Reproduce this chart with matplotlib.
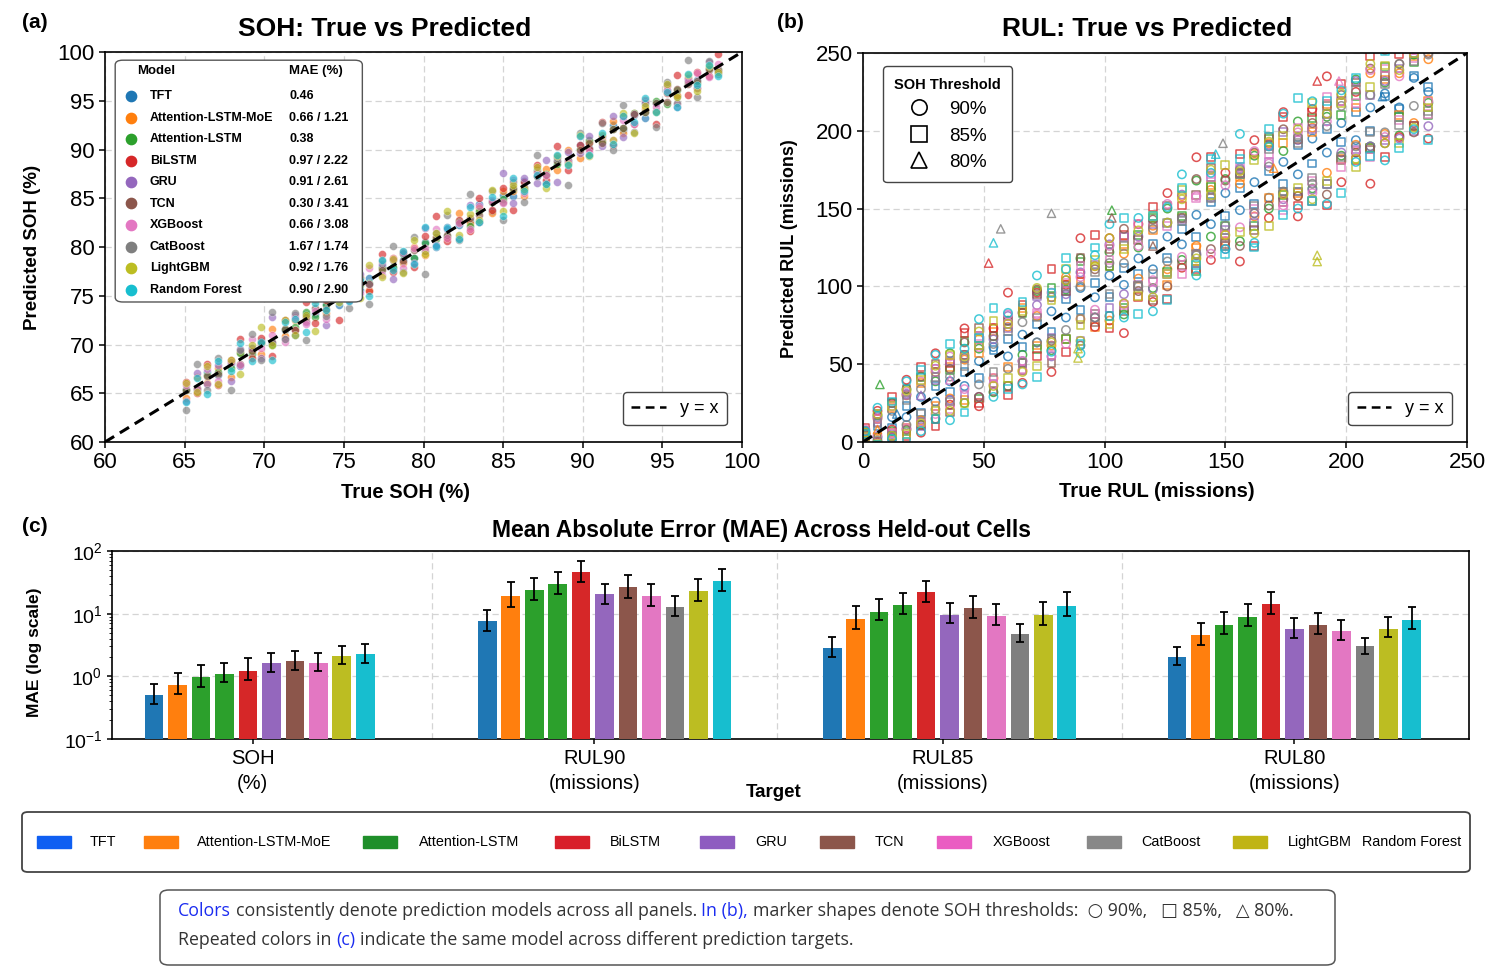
import numpy as np
import matplotlib
matplotlib.use('Agg')
import matplotlib.pyplot as plt
from matplotlib import font_manager
from matplotlib.lines import Line2D
from matplotlib.patches import FancyBboxPatch, Rectangle

# fonts
names = {f.name for f in font_manager.fontManager.ttflist}
NARROW = 'Liberation Sans Narrow' if 'Liberation Sans Narrow' in names else 'Liberation Sans'
plt.rcParams['font.family'] = ['Liberation Sans', 'DejaVu Sans']
plt.rcParams['mathtext.default'] = 'regular'

W, H = 1497, 980

# ---------------- data ----------------
models = ['TFT', 'Attention-LSTM-MoE', 'Attention-LSTM', 'BiLSTM', 'GRU',
          'TCN', 'XGBoost', 'CatBoost', 'LightGBM', 'Random Forest']
colors = ['#1f77b4', '#ff7f0e', '#2ca02c', '#d62728', '#9467bd',
          '#8c564b', '#e377c2', '#7f7f7f', '#bcbd22', '#17becf']
mae_text = ['0.46', '0.66 / 1.21', '0.38', '0.97 / 2.22', '0.91 / 2.61',
            '0.30 / 3.41', '0.66 / 3.08', '1.67 / 1.74', '0.92 / 1.76', '0.90 / 2.90']

# (a) true SOH of the held-out samples and residual (pred - true) per model
true_soh = [65.1, 65.8, 66.4, 67.1, 67.9, 68.5, 69.2, 69.8, 70.5, 71.3,
            71.9, 72.6, 73.2, 73.9, 74.7, 75.3, 76.0, 76.6, 77.4, 78.1,
            78.7, 79.4, 80.1, 80.8, 81.5, 82.2, 82.9, 83.5, 84.3, 85.0,
            85.6, 86.3, 87.1, 87.7, 88.4, 89.1, 89.8, 90.4, 91.2, 91.9,
            92.5, 93.2, 93.9, 94.6, 95.3, 95.9, 96.6, 97.2, 97.9, 98.5]
soh_res = [
    [0.3, -0.5, 0.8, -0.2, 0.1, -0.7, 0.4, 0.6, -0.3, 0.2,
     -0.9, 0.5, -0.1, 0.3, -0.6, 1.2, -0.4, 0.2, 0.7, -0.3,
     0.0, -0.5, 0.4, -0.8, 0.6, 0.1, -0.2, 0.9, -0.6, 0.3,
     -0.4, 0.5, 0.2, -1.1, 0.4, -0.3, 0.7, -0.2, 0.1, 0.6,
     -0.5, 0.3, -0.7, 0.2, 0.8, -0.4, 0.5, -0.1, 0.3, -0.6],
    [-0.6, 0.9, -0.3, 0.5, -1.2, 0.7, 0.2, -0.8, 1.1, -0.4,
     0.6, -0.2, 1.4, -0.7, 0.3, -0.5, 0.9, -1.0, 0.4, 0.8,
     -0.3, 0.6, -0.9, 0.2, -0.6, 1.3, -0.4, 0.5, -0.8, 0.7,
     0.1, -1.1, 0.6, 0.3, -0.5, 0.9, -0.7, 0.4, -0.2, 1.0,
     -0.8, 0.5, 0.3, -0.6, 1.2, -0.3, 0.7, -0.9, 0.4, -0.5],
    [0.2, -0.4, 0.5, 0.1, -0.3, 0.6, -0.2, 0.4, -0.5, 0.3,
     -0.1, 0.7, -0.4, 0.2, 0.5, -0.6, 0.1, -0.3, 0.4, -0.2,
     0.6, -0.5, 0.3, 0.0, -0.4, 0.5, -0.7, 0.2, 0.3, -0.1,
     0.4, -0.3, 0.8, -0.2, 0.1, -0.5, 0.3, 0.6, -0.4, 0.2,
     -0.3, 0.5, -0.1, 0.4, -0.6, 0.2, 0.3, -0.4, 0.5, -0.2],
    [1.1, -0.8, 1.6, -1.3, 0.5, 2.1, -0.6, 0.9, -1.7, 1.2,
     -0.4, 1.8, -1.0, 0.7, -2.2, 1.4, 0.3, -1.1, 1.9, -0.7,
     0.8, -1.5, 1.0, 2.4, -0.9, 0.6, -1.3, 1.5, -0.5, 1.1,
     -1.8, 0.4, 1.3, -0.8, 2.0, -1.2, 0.7, -0.3, 1.6, -1.4,
     0.9, -0.6, 1.2, -2.0, 0.5, 1.7, -1.0, 0.8, -0.4, 1.3],
    [-0.9, 1.3, -0.5, 0.8, -1.6, 1.0, 0.4, -1.2, 2.3, -0.7,
     1.1, -0.3, 1.5, -1.9, 0.6, -0.8, 1.2, -0.4, 0.9, -1.4,
     0.7, -1.0, 1.8, -0.6, 0.3, -1.3, 1.4, -0.9, 0.5, 2.6,
     -1.1, 0.8, -0.5, 1.2, -1.7, 0.6, -0.2, 1.0, -0.8, 1.5,
     -1.2, 0.4, 0.9, -0.6, 1.3, -1.5, 0.7, -0.9, 1.1, -0.4],
    [0.2, -0.3, 0.4, -0.1, 0.3, -0.5, 0.1, 0.4, -0.2, 0.3,
     -0.4, 0.2, 0.5, -0.3, 0.1, -0.2, 0.4, -0.4, 0.2, 0.6,
     -0.1, 0.3, -0.5, 0.2, -0.3, 0.4, 0.1, -0.2, 0.3, -0.4,
     0.5, -0.1, 0.2, -0.3, 0.4, -0.2, 0.1, 0.3, -0.5, 0.2,
     -0.3, 0.4, -0.1, 0.2, -0.4, 0.3, 0.1, -0.2, 0.4, -0.3],
    [0.7, -0.4, 1.1, -0.8, 0.3, -0.6, 1.4, -0.2, 0.5, -1.0,
     0.9, -0.5, 0.2, -1.3, 0.6, 0.4, -0.7, 1.2, -0.3, 0.8,
     -0.9, 0.5, -0.2, 1.0, -0.6, 0.3, -1.1, 0.7, 0.4, -0.5,
     1.3, -0.8, 0.6, -0.3, 0.9, -0.4, 1.6, -0.7, 0.2, -0.9,
     0.5, -0.6, 1.1, -0.2, 0.8, -1.2, 0.4, 0.6, -0.5, 0.3],
    [-1.8, 2.2, -1.1, 1.5, -2.6, 0.9, 1.9, -1.4, 2.8, -0.7,
     1.3, -2.1, 1.7, -1.0, 3.2, -1.6, 0.8, -2.4, 1.2, 2.0,
     -1.3, 1.6, -2.9, 0.6, 1.8, -1.5, 2.5, -0.9, 1.4, -2.2,
     1.1, -1.7, 2.3, -1.2, 0.7, -2.7, 1.9, -1.0, 1.5, -1.9,
     2.1, -1.4, 0.9, -2.3, 1.6, -1.1, 2.6, -1.8, 1.2, -0.8],
    [1.0, -0.7, 1.4, -1.1, 0.5, -1.5, 0.8, 2.0, -0.6, 1.2,
     -0.9, 0.4, -1.8, 1.1, -0.3, 0.9, -1.2, 1.6, -0.5, 0.7,
     -1.4, 1.3, -0.8, 0.6, 2.2, -1.0, 0.5, -0.7, 1.5, -1.3,
     0.8, -0.4, 1.1, -1.6, 0.9, -0.6, 1.7, -1.1, 0.3, -0.9,
     1.2, -1.5, 0.6, -0.8, 1.4, -0.5, 1.0, -1.2, 0.7, -0.6],
    [-1.0, 0.8, -1.5, 1.2, -0.6, 1.7, -0.9, 0.5, -2.1, 1.0,
     0.7, -1.3, 1.1, -0.4, 1.9, -0.8, 0.6, -1.6, 1.3, -0.5,
     0.9, -1.1, 2.0, -0.7, 0.4, -1.4, 1.2, -0.9, 0.8, -1.8,
     1.5, -0.6, 0.3, -1.2, 1.0, -0.7, 1.6, -1.0, 0.5, -1.3,
     0.9, -0.4, 1.4, -0.8, 0.6, -1.5, 1.1, -0.6, 0.8, -1.0],
]

# (b) true RUL of the held-out samples, residuals for SOH90 (circles) and SOH85 (squares)
true_rul = [1, 6, 12, 18, 24, 30, 36, 42, 48, 54,
            60, 66, 72, 78, 84, 90, 96, 102, 108, 114,
            120, 126, 132, 138, 144, 150, 156, 162, 168, 174,
            180, 186, 192, 198, 204, 210, 216, 222, 228, 234]
rul90_res = [
    [2, -3, 4, -2, 5, -4, 3, -6, 4, 7, -5, 3, -8, 6, -4, 9, -3, 5, -7, 4,
     -9, 6, -5, 8, -4, 10, -7, 5, -11, 6, -8, 9, -6, 7, -10, 5, 8, -7, 6, -9],
    [4, 9, -6, 12, -10, 15, -8, 11, 18, -13, 14, -20, 9, -16, 22, -11, 17, -24, 13, -9,
     19, -15, 26, -12, 18, -21, 10, -17, 24, -14, -22, 16, -19, 21, -13, 27, -18, 15, -23, 12],
    [3, 11, -5, 16, -13, 9, 21, -17, 12, -22, 18, -10, 25, -19, 14, 28, -16, 20, -26, 11,
     -21, 24, -15, 30, -12, 19, -27, 22, -18, 13, 26, -23, 17, -14, 29, -20, 15, -25, 21, -16],
    [5, 14, -4, 22, -18, 27, -12, 31, -25, 19, 36, -28, 24, -33, 17, 41, -22, 29, -38, 26,
     -30, 34, -20, 45, -27, 23, -40, 32, -24, 38, -35, 28, 43, -31, 21, -44, 36, -26, 30, -39],
    [2, 10, -7, 13, -11, 17, -9, 14, -19, 12, 21, -14, 16, -23, 11, 19, -16, 25, -13, 18,
     -22, 15, 27, -17, 13, -26, 20, -15, 23, -18, 14, -24, 19, -12, 28, -20, 16, -27, 22, -31],
    [4, -6, 13, -10, 18, -15, 11, 22, -19, 14, -24, 17, 26, -13, 20, -28, 15, -21, 29, -17,
     23, -26, 12, 31, -20, 18, -30, 24, -16, 27, -22, 19, -33, 25, -18, 30, -24, 21, -29, 16],
    [7, -2, 11, -9, 15, -12, 19, -8, 13, -17, 22, -14, 10, 18, -21, 16, -11, 24, -19, 12,
     -16, 27, -13, 20, -23, 15, -18, 25, 11, -22, 19, -26, 14, 21, -17, 29, -20, 13, 24, -15],
    [3, -5, 8, -7, 10, -9, 6, 12, -11, 9, -13, 11, -8, 15, -12, 10, -16, 13, 7, -14,
     17, -10, 12, -18, 14, -11, 19, -15, 9, -13, 16, -20, 11, 18, -14, 13, -17, 21, -12, 15],
    [5, 12, -8, 15, -12, 19, -16, 13, 23, -18, 16, -21, 27, -14, 20, -25, 17, 29, -19, 22,
     -27, 15, 24, -20, 31, -17, 18, -28, 25, -15, 21, -30, 19, 26, -22, 33, -24, 17, -26, 28],
    [6, 16, -10, 21, -17, 26, -22, 18, 31, -25, 23, -29, 35, -20, 27, -33, 24, 38, -28, 30,
     -36, 25, 40, -31, 29, -26, 42, -34, 22, 37, -30, 33, -39, 28, -24, 44, -35, 31, -27, 36],
]
rul85_res = [
    [-1, 4, -3, 5, -5, 6, -4, 3, -7, 5, 6, -5, 4, -7, 8, -5, 6, -9, 4, -6,
     7, -8, 5, -6, 10, -5, 7, -9, 6, -8, 11, -7, 9, -5, 8, -10, 6, -8, 7, -6],
    [6, -4, 10, -9, 14, -7, 12, -15, 9, 17, -12, 20, -10, 15, -18, 13, -22, 11, 19, -14,
     16, -25, 12, -13, 21, -17, 14, 23, -11, 18, -20, 13, 25, -16, 11, -21, 17, -12, 20, -15],
    [5, -3, 13, -11, 18, -15, 10, 23, -20, 14, -24, 17, -12, 21, -18, 26, -14, 11, -22, 19,
     24, -17, 13, -28, 20, -11, 16, -23, 27, -15, -19, 22, -26, 12, 18, -21, 25, -13, 16, -24],
    [8, -6, 17, -14, 24, -20, 15, 28, -23, 19, -30, 22, -17, 33, -26, 18, 37, -29, 25, -21,
     31, -34, 20, -27, 39, -24, 29, -36, 22, 35, -28, 26, -40, 32, -23, 38, -33, 27, -25, 30],
    [-3, 7, -9, 12, -14, 10, 16, -12, 19, -17, 13, -20, 22, -11, 15, -25, 18, -16, 24, -13,
     20, -18, 11, -23, 26, -14, 17, -21, 12, 25, -19, 15, -26, 21, -16, 13, -22, 18, -28, 23],
    [6, 12, -8, 16, -13, 20, -17, 14, 25, -21, 18, -15, 23, -27, 13, 28, -19, 22, -24, 16,
     -29, 26, -18, 21, 32, -23, 17, -26, 28, -20, 15, -31, 24, -17, 27, -22, 19, 33, -25, 21],
    [-2, 9, -6, 14, -11, 17, -15, 12, 20, -13, 16, -19, 11, -22, 18, 23, -14, 15, -20, 26,
     -17, 13, -24, 19, 28, -16, 21, -12, 17, -25, 22, -18, 30, -21, 14, -27, 24, -15, 19, -23],
    [-4, 6, -8, 9, -6, 12, -10, 7, 14, -9, 11, -15, 8, -12, 16, -11, 13, -7, 18, -14,
     -12, 15, 10, -17, 13, -19, 16, -10, 20, -13, 12, -16, 19, -15, 22, -11, 14, -18, 17, -21],
    [2, -7, 11, -13, 16, -10, 20, -17, 14, 24, -19, 18, -23, 13, 27, -15, 21, -26, 16, -20,
     25, -18, 30, -22, 15, 28, -21, 19, -29, 23, -17, 32, -24, 20, -27, 18, 26, -30, 22, -19],
    [4, -8, 14, -18, 22, -15, 27, -23, 19, 32, -26, 24, -30, 18, 34, -27, 29, -21, 36, -32,
     25, -35, 31, -24, 38, -29, 26, -37, 33, -28, 41, -31, 27, -38, 30, -26, 35, -33, 28, -40],
]
# SOH80 (triangles): few samples, given as model index / true / predicted
tri_model = [2, 1, 7, 9, 7, 2, 5, 7, 9, 8, 8, 3, 6, 3, 8, 8, 0, 4, 6, 5, 1, 0]
tri_true = [7, 6, 78, 54, 57, 103, 103, 149, 146, 188, 188, 188, 197, 52, 89, 89, 14, 24, 36, 120, 170, 215]
tri_pred = [37, 8, 147, 128, 137, 149, 144, 192, 185, 120, 116, 232, 232, 115, 60, 54, 18, 30, 40, 126, 176, 222]

# (c) MAE per target, 11 bars per group (nan = no bar)
targets = ['SOH\n(%)', 'RUL90\n(missions)', 'RUL85\n(missions)', 'RUL80\n(missions)']
bar_colors = ['#1f77b4', '#ff7f0e', '#2ca02c', '#2ca02c', '#d62728', '#9467bd',
              '#8c564b', '#e377c2', '#7f7f7f', '#bcbd22', '#17becf']
nan = np.nan
mae_vals = [
    [0.50, 0.74, 0.96, 1.10, 1.23, 1.64, 1.74, 1.66, nan, 2.11, 2.27],
    [7.5, 19.3, 23.7, 29.8, 45.6, 20.3, 26.2, 19.0, 12.6, 22.8, 32.7],
    [2.8, 8.2, 10.8, 14.0, 21.9, 9.6, 12.4, 9.2, 4.8, 9.5, 13.3],
    [2.0, 4.5, 6.6, 9.0, 14.1, 5.6, 6.6, 5.2, 3.0, 5.7, 7.9],
]
mae_hi = [
    [0.76, 1.14, 1.49, 1.64, 1.96, 2.32, 2.50, 2.40, nan, 3.10, 3.30],
    [11.4, 32.2, 36.6, 46.0, 68.0, 30.0, 41.7, 30.0, 19.0, 35.7, 52.0],
    [4.25, 13.1, 16.9, 21.6, 33.5, 14.7, 19.3, 14.3, 6.9, 15.3, 21.9],
    [2.96, 7.1, 10.5, 14.2, 22.2, 8.45, 10.3, 7.95, 4.15, 8.9, 12.8],
]
mae_lo = [
    [0.36, 0.52, 0.68, 0.80, 0.88, 1.18, 1.25, 1.20, nan, 1.55, 1.65],
    [5.2, 12.9, 16.3, 20.5, 31.8, 14.3, 18.1, 13.4, 9.1, 15.9, 23.1],
    [2.04, 5.7, 7.8, 9.9, 15.1, 7.05, 8.65, 6.5, 3.55, 6.7, 9.2],
    [1.49, 3.18, 4.68, 6.25, 9.8, 4.05, 4.68, 3.86, 2.24, 4.2, 5.6],
]

# legend below panel (c)
legend_labels = ['TFT', 'Attention-LSTM-MoE', 'Attention-LSTM', 'BiLSTM', 'GRU',
                 'TCN', 'XGBoost', 'CatBoost', 'LightGBM', 'Random Forest']
legend_colors = ['#0f5ff2', '#ff7f0e', '#1f8f2a', '#d81f2a', '#8e5cc0',
                 '#8c564b', '#ea5cc2', '#888888', '#c0b414', None]
legend_patch_x = [37, 144, 363, 555, 700, 820, 937, 1087, 1233, None]
legend_text_x = [90, 197, 419, 610, 755, 875, 993, 1141, 1288, 1362]


def fx(px):
    return px / W


def fy(py):
    return 1 - py / H


fig = plt.figure(figsize=(W / 100, H / 100), dpi=100)

grid_kw = dict(color='#d4d4d4', linestyle=(0, (5, 3)), linewidth=0.9)
diag_kw = dict(color='black', linestyle=(0, (3.5, 2.2)), linewidth=2.2, zorder=4)

# ---------------- (a) ----------------
ax_a = fig.add_axes([fx(105), fy(442), 637 / W, 390 / H])
ts = np.array(true_soh)
for i, m in enumerate(models):
    ax_a.scatter(ts, ts + np.array(soh_res[i]), s=32, color=colors[i], alpha=0.65,
                 edgecolors='white', linewidths=0.3, zorder=2)
ax_a.plot([60, 100], [60, 100], **diag_kw)
ax_a.set_xlim(60, 100)
ax_a.set_ylim(60, 100)
ax_a.set_xticks(range(60, 101, 5))
ax_a.set_yticks(range(60, 101, 5))
ax_a.grid(True, **grid_kw)
ax_a.set_axisbelow(True)
ax_a.tick_params(labelsize=16, width=1.1, length=4)
for lab in ax_a.get_xticklabels() + ax_a.get_yticklabels():
    lab.set_fontfamily(NARROW)
for sp in ax_a.spines.values():
    sp.set_linewidth(1.2)

# model legend box
ax_a.add_patch(FancyBboxPatch((0.016, 0.359), 0.388, 0.62,
                              boxstyle='round,pad=0,rounding_size=0.012',
                              transform=ax_a.transAxes, fc='white', ec='#555555',
                              lw=1.0, zorder=5))
ax_a.text(0.050, 0.951, 'Model', transform=ax_a.transAxes, fontsize=9.5,
          fontweight='bold', va='center', zorder=6)
ax_a.text(0.289, 0.951, 'MAE (%)', transform=ax_a.transAxes, fontsize=9.5,
          fontweight='bold', va='center', zorder=6)
for i, m in enumerate(models):
    yy = 1 - (96 - 52 + 21.5 * i) / 390
    ax_a.scatter([0.041], [yy], s=55, color=colors[i], transform=ax_a.transAxes,
                 zorder=6, clip_on=False)
    ax_a.text(0.0706, yy, m, transform=ax_a.transAxes, fontsize=9,
              fontweight='bold', va='center', zorder=6)
    ax_a.text(0.289, yy, mae_text[i], transform=ax_a.transAxes, fontsize=9,
              fontweight='bold', va='center', zorder=6)

leg_line = Line2D([], [], color='black', linestyle=(0, (3.5, 2.2)), linewidth=1.8)
ax_a.legend([leg_line], ['y = x'], loc='lower right', fontsize=13, handlelength=1.9,
            borderpad=0.45, fancybox=True, edgecolor='#444444', framealpha=1,
            bbox_to_anchor=(0.99, 0.02))

# ---------------- (b) ----------------
ax_b = fig.add_axes([fx(863), fy(442), 604 / W, 389 / H])
tr = np.array(true_rul)
for i, m in enumerate(models):
    ax_b.scatter(tr, tr + np.array(rul85_res[i]), marker='s', s=32, facecolors='none',
                 edgecolors=colors[i], linewidths=1.1, alpha=0.8, zorder=2)
    ax_b.scatter(tr, tr + np.array(rul90_res[i]), marker='o', s=36, facecolors='none',
                 edgecolors=colors[i], linewidths=1.1, alpha=0.8, zorder=2)
for k in range(len(tri_model)):
    ax_b.scatter([tri_true[k]], [tri_pred[k]], marker='^', s=36, facecolors='none',
                 edgecolors=colors[tri_model[k]], linewidths=1.0, alpha=0.8, zorder=2)
ax_b.plot([0, 250], [0, 250], **diag_kw)
ax_b.set_xlim(0, 250)
ax_b.set_ylim(0, 250)
ax_b.set_xticks(range(0, 251, 50))
ax_b.set_yticks(range(0, 251, 50))
ax_b.grid(True, **grid_kw)
ax_b.set_axisbelow(True)
ax_b.tick_params(labelsize=16, width=1.1, length=4)
for sp in ax_b.spines.values():
    sp.set_linewidth(1.2)

thr_handles = [Line2D([], [], marker=mk, linestyle='none', markersize=11,
                      markerfacecolor='none', markeredgecolor='black', markeredgewidth=1.2)
               for mk in ['o', 's', '^']]
leg_thr = ax_b.legend(thr_handles, ['90%', '85%', '80%'], loc='upper left',
                      title='SOH Threshold', fontsize=13.5, handlelength=1.0,
                      handletextpad=1.1,
                      title_fontproperties={'weight': 'bold', 'size': 10.5},
                      fancybox=True, edgecolor='#444444', framealpha=1,
                      bbox_to_anchor=(0.018, 0.99), borderpad=0.6, labelspacing=0.5)
ax_b.add_artist(leg_thr)
ax_b.legend([leg_line], ['y = x'], loc='lower right', fontsize=13, handlelength=1.9,
            borderpad=0.45, fancybox=True, edgecolor='#444444', framealpha=1,
            bbox_to_anchor=(0.99, 0.02))

# ---------------- (c) ----------------
ax_c = fig.add_axes([fx(112), fy(739), 1357 / W, 188 / H])
pitch, bw = 0.068, 0.054
for g in range(len(targets)):
    idx = [j for j in range(len(bar_colors)) if not np.isnan(mae_vals[g][j])]
    n = len(idx)
    xs = g + (np.arange(n) - (n - 1) / 2) * pitch
    vals = np.array([mae_vals[g][j] for j in idx])
    hi = np.array([mae_hi[g][j] for j in idx])
    lo = np.array([mae_lo[g][j] for j in idx])
    ax_c.bar(xs, vals, width=bw, color=[bar_colors[j] for j in idx],
             yerr=[vals - lo, hi - vals], capsize=3,
             error_kw=dict(ecolor='black', elinewidth=1.3, capthick=1.3), zorder=3)
ax_c.set_yscale('log')
ax_c.set_ylim(0.1, 100)
ax_c.set_xlim(-0.428, 3.506)
ax_c.set_xticks([-0.02, 0.97, 1.98, 3.0])
ax_c.set_xticklabels(targets, fontsize=14.5, fontfamily=NARROW, linespacing=1.45)
ax_c.tick_params(axis='y', labelsize=14)
ax_c.tick_params(width=1.1)
ax_c.yaxis.grid(True, which='major', **grid_kw)
for xv in [0.5, 1.5, 2.5]:
    ax_c.axvline(xv, zorder=0, **grid_kw)
for sp in ax_c.spines.values():
    sp.set_linewidth(1.2)

# ---------------- texts ----------------
fig.text(fx(35), fy(22), '(a)', fontsize=15, fontweight='bold', ha='center', va='center')
fig.text(fx(790), fy(22), '(b)', fontsize=15, fontweight='bold', ha='center', va='center')
fig.text(fx(35), fy(526), '(c)', fontsize=15, fontweight='bold', ha='center', va='center')
fig.text(fx(385), fy(29), 'SOH: True vs Predicted', fontsize=19, fontweight='bold',
         ha='center', va='center')
fig.text(fx(1147), fy(29), 'RUL: True vs Predicted', fontsize=19, fontweight='bold',
         ha='center', va='center')
fig.text(fx(406), fy(492), 'True SOH (%)', fontsize=14.5, fontweight='bold', ha='center', va='center')
fig.text(fx(33), fy(247), 'Predicted SOH (%)', fontsize=13.5, fontweight='bold',
         ha='center', va='center', rotation=90)
fig.text(fx(1157), fy(491), 'True RUL (missions)', fontsize=14.5, fontweight='bold',
         ha='center', va='center')
fig.text(fx(790), fy(249), 'Predicted RUL (missions)', fontsize=13, fontweight='bold',
         ha='center', va='center', rotation=90)
fig.text(fx(762), fy(530), 'Mean Absolute Error (MAE) Across Held-out Cells', fontsize=16.5,
         fontweight='bold', ha='center', va='center')
fig.text(fx(35), fy(652), 'MAE (log scale)', fontsize=12.5, fontweight='bold',
         ha='center', va='center', rotation=90)
fig.text(fx(774), fy(792), 'Target', fontsize=13.5, fontweight='bold', ha='center', va='center')

# bottom legend
fig.patches.append(FancyBboxPatch((fx(22), fy(872)), 1448 / W, 60 / H,
                                  boxstyle='round,pad=0,rounding_size=0.004',
                                  transform=fig.transFigure, fc='white', ec='#444444', lw=1.3))
for lab, c, px, tx in zip(legend_labels, legend_colors, legend_patch_x, legend_text_x):
    if c is not None:
        fig.patches.append(Rectangle((fx(px), fy(848)), 34 / W, 12 / H,
                                     transform=fig.transFigure, color=c))
    fig.text(fx(tx), fy(842), lab, fontsize=10.4, fontfamily=NARROW, va='center', ha='left')

# caption box
fig.patches.append(FancyBboxPatch((fx(160), fy(965)), 1175 / W, 75 / H,
                                  boxstyle='round,pad=0,rounding_size=0.006',
                                  transform=fig.transFigure, fc='white', ec='#555555', lw=1.1))
blue = '#1b2cf0'
ink = '#333333'
cap_font = ['Open Sans', 'DejaVu Sans']
renderer = fig.canvas.get_renderer()


def text_width(s, size):
    t = fig.text(0, 0, s, fontsize=size, family=cap_font)
    w = t.get_window_extent(renderer=renderer).width
    t.remove()
    return w


def rich_line(x_px, y_px, pieces, size):
    gap = text_width('a a', size) - text_width('aa', size)
    x = x_px
    for s, c in pieces:
        t = fig.text(fx(x), fy(y_px), s, color=c, fontsize=size, family=cap_font,
                     ha='left', va='baseline')
        x = t.get_window_extent(renderer=renderer).x1 + gap


cap_size = 12.8
rich_line(178, 916, [('Colors', blue),
                     ('consistently denote prediction models across all panels.', ink),
                     ('In (b),', blue),
                     ('marker shapes denote SOH thresholds:  \u25cb 90%,   \u25a1 85%,   \u25b3 80%.', ink)],
          cap_size)
rich_line(178, 945, [('Repeated colors in', ink), ('(c)', blue),
                     ('indicate the same model across different prediction targets.', ink)],
          cap_size)

fig.savefig('out.png', dpi=100)
